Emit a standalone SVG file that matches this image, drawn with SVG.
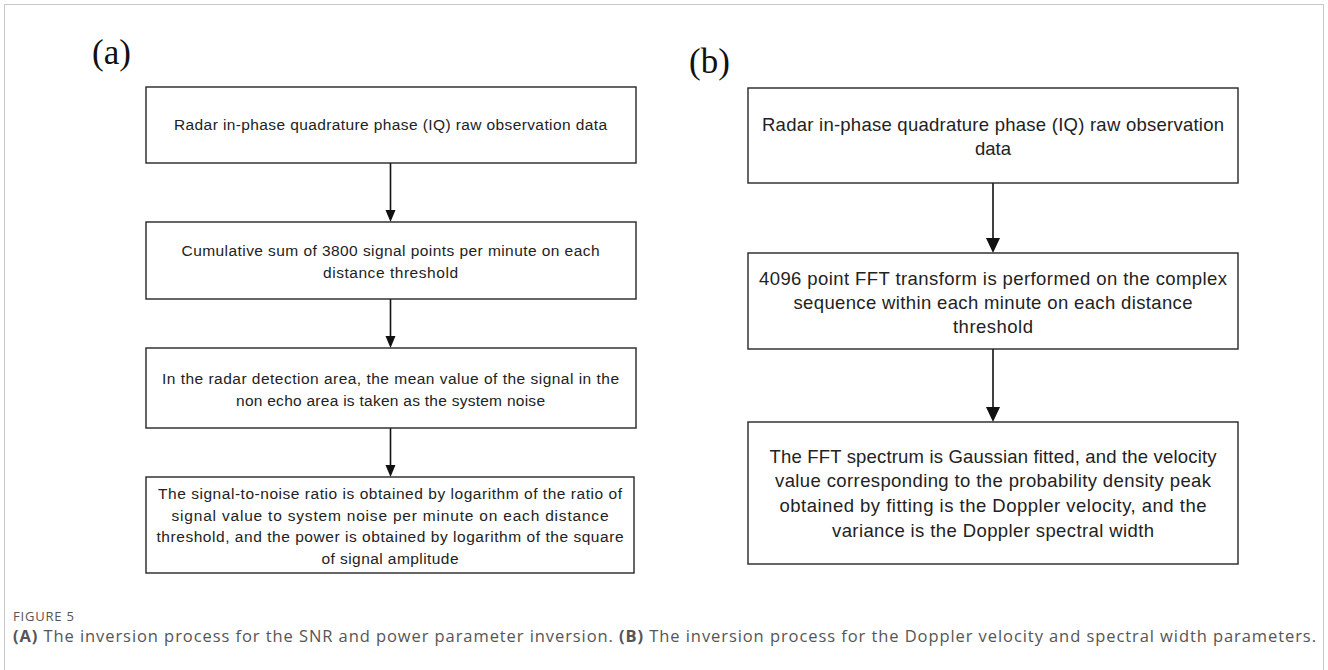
<svg xmlns="http://www.w3.org/2000/svg" width="1328" height="670" viewBox="0 0 1328 670">
<style>
.box{fill:#fff;stroke:#262626;stroke-width:1.4}
.ta{font-family:"Liberation Sans",Arial,sans-serif;font-size:15.5px;fill:#222;text-anchor:middle}
.tb{font-family:"Liberation Sans",Arial,sans-serif;font-size:18.5px;fill:#222;text-anchor:middle}
.lbl{font-family:"Liberation Serif","Times New Roman",serif;font-size:35px;fill:#111}
.con{stroke:#111;stroke-width:1.6;fill:none}
.cap{font-family:"Open Sans","Liberation Sans",sans-serif;fill:#555}
</style>
<rect x="0" y="0" width="1328" height="670" fill="#fff"/>
<rect x="4.5" y="4.5" width="1319" height="700" fill="none" stroke="#c8c8c8" stroke-width="1"/>

<text class="lbl" x="92" y="64">(a)</text>
<text class="lbl" x="689" y="73">(b)</text>

<g id="connectors">
<line class="con" x1="390.5" y1="163" x2="390.5" y2="212"/>
<path d="M385.5,210 L395.5,210 L390.5,222 Z" fill="#111"/>
<line class="con" x1="390.5" y1="299" x2="390.5" y2="338"/>
<path d="M385.5,336 L395.5,336 L390.5,348 Z" fill="#111"/>
<line class="con" x1="390.5" y1="428" x2="390.5" y2="467"/>
<path d="M385.5,465 L395.5,465 L390.5,477 Z" fill="#111"/>
<line class="con" x1="993" y1="183" x2="993" y2="240" stroke-width="2"/>
<path d="M986,238 L1000,238 L993,253 Z" fill="#111"/>
<line class="con" x1="993" y1="349" x2="993" y2="409" stroke-width="2"/>
<path d="M986,407 L1000,407 L993,422 Z" fill="#111"/>
</g>

<g id="a1">
<rect class="box" x="146" y="87" width="490" height="76"/>
<text class="ta" x="390.5" y="130" textLength="433">Radar in-phase quadrature phase (IQ) raw observation data</text>
</g>
<g id="a2">
<rect class="box" x="146" y="222" width="490" height="77"/>
<text class="ta" x="390.5" y="256" textLength="418">Cumulative sum of 3800 signal points per minute on each</text>
<text class="ta" x="390.5" y="278" textLength="135">distance threshold</text>
</g>
<g id="a3">
<rect class="box" x="146" y="348" width="490" height="80"/>
<text class="ta" x="390.5" y="384" textLength="457">In the radar detection area, the mean value of the signal in the</text>
<text class="ta" x="390.5" y="406" textLength="309">non echo area is taken as the system noise</text>
</g>
<g id="a4">
<rect class="box" x="146" y="477" width="488" height="96"/>
<text class="ta" x="390" y="499" textLength="464">The signal-to-noise ratio is obtained by logarithm of the ratio of</text>
<text class="ta" x="390" y="520.5" textLength="437">signal value to system noise per minute on each distance</text>
<text class="ta" x="390" y="542" textLength="467">threshold, and the power is obtained by logarithm of the square</text>
<text class="ta" x="390" y="563.5" textLength="137">of signal amplitude</text>
</g>

<g id="b1">
<rect class="box" x="748" y="88" width="490" height="95"/>
<text class="tb" x="993" y="131" textLength="462">Radar in-phase quadrature phase (IQ) raw observation</text>
<text class="tb" x="993" y="155">data</text>
</g>
<g id="b2">
<rect class="box" x="748" y="253" width="490" height="96"/>
<text class="tb" x="993" y="285" textLength="468">4096 point FFT transform is performed on the complex</text>
<text class="tb" x="993" y="309" textLength="399">sequence within each minute on each distance</text>
<text class="tb" x="993" y="333" textLength="80">threshold</text>
</g>
<g id="b3">
<rect class="box" x="748" y="422" width="490" height="142"/>
<text class="tb" x="993" y="463" textLength="447">The FFT spectrum is Gaussian fitted, and the velocity</text>
<text class="tb" x="993" y="487" textLength="436">value corresponding to the probability density peak</text>
<text class="tb" x="993" y="512" textLength="427">obtained by fitting is the Doppler velocity, and the</text>
<text class="tb" x="993" y="537" textLength="322">variance is the Doppler spectral width</text>
</g>

<text class="cap" x="13" y="621" font-size="13" textLength="61">FIGURE 5</text>
<text class="cap" x="13" y="642" font-size="16.5" textLength="1303"><tspan font-weight="bold">(A)</tspan> The inversion process for the SNR and power parameter inversion. <tspan font-weight="bold">(B)</tspan> The inversion process for the Doppler velocity and spectral width parameters.</text>
</svg>
